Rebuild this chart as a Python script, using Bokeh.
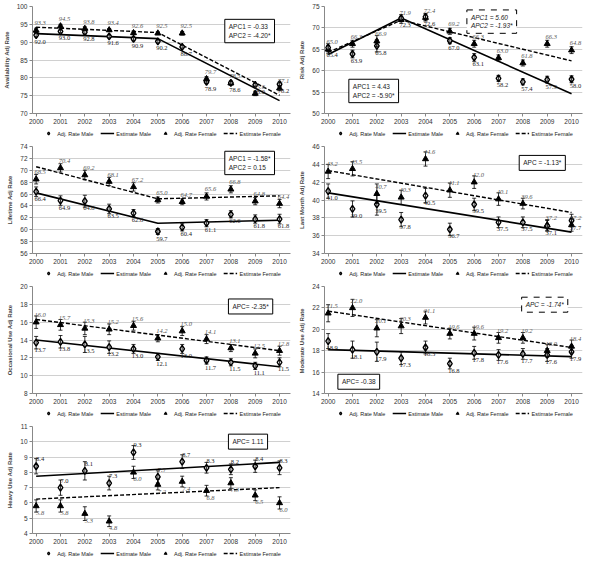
from bokeh.plotting import figure
from bokeh.layouts import column, row
from bokeh.models import (Range1d, FixedTicker, Legend, LegendItem, Label, Whisker,
                          ColumnDataSource, TeeHead, LabelSet, Spacer)
from bokeh.embed import file_html
from bokeh.resources import INLINE

FONT = "Liberation Sans"
years = list(range(2000, 2011))
legend_labels = ["Adj. Rate Male", "Estimate Male", "Adj. Rate Female", "Estimate Female"]

# Availability
avail_male = [92.0, 93.0, 92.8, 91.6, 90.9, 90.2, 88.7, 78.9, 78.6, 78.0, 78.2]
avail_female = [93.3, 94.5, 93.8, 93.4, 92.6, 92.5, 92.5, 79.7, 78.5, 75.6, 77.1]
avail_male_err = [0.5, 0.4, 0.5, 0.4, 0.5, 0.4, 0.4, 0.5, 0.5, 0.4, 0.6]
avail_female_err = [0.6, 0.5, 0.5, 0.4, 0.5, 0.4, 0.5, 0.6, 0.5, 0.6, 0.7]
avail_est_years = [2000, 2005, 2010]
avail_est_male = [92.4, 91.0, 73.6]
avail_est_female = [94.2, 92.7, 75.1]

# Risk
risk_male = [65.4, 63.9, 65.8, 72.3, 72.6, 67.0, 63.1, 58.2, 57.4, 57.9, 58.0]
risk_female = [65.0, 66.3, 66.9, 71.9, 72.4, 69.2, 66.3, 63.0, 61.8, 66.3, 64.8]
risk_male_err = [0.9, 0.9, 1.4, 0.8, 0.8, 0.7, 0.9, 0.7, 0.7, 0.8, 0.8]
risk_female_err = [0.9, 0.8, 1.3, 0.8, 0.8, 0.7, 0.8, 0.7, 0.7, 0.8, 0.8]
risk_est_years = [2000, 2003, 2010]
risk_est_male = [63.8, 72.3, 54.6]
risk_est_female = [64.3, 71.8, 62.3]

# Lifetime
life_male = [66.4, 64.9, 64.8, 63.5, 62.8, 59.7, 60.4, 61.1, 62.6, 61.8, 61.8]
life_female = [68.5, 70.4, 69.2, 68.1, 67.2, 65.0, 64.7, 65.6, 66.8, 64.8, 64.4]
life_male_err = [0.8, 0.8, 1.0, 0.8, 0.6, 0.5, 0.6, 0.6, 0.6, 0.7, 0.8]
life_female_err = [0.8, 0.7, 0.8, 0.7, 0.7, 0.5, 0.5, 0.6, 0.6, 0.6, 0.7]
life_est_years = [2000, 2005, 2010]
life_est_male = [66.2, 61.1, 61.6]
life_est_female = [70.6, 65.2, 65.7]

# Last month
month_male = [41.0, 39.0, 39.5, 37.8, 40.5, 36.7, 39.5, 37.5, 37.5, 37.1, 37.7]
month_female = [43.2, 43.5, 40.7, 40.3, 44.6, 41.1, 42.0, 40.1, 39.6, 37.2, 37.2]
month_male_err = [0.8, 0.9, 1.2, 0.8, 0.8, 0.7, 0.7, 0.6, 0.6, 0.6, 0.7]
month_female_err = [0.8, 0.8, 1.1, 0.8, 0.8, 0.8, 0.7, 0.7, 0.6, 0.6, 0.7]
month_est_years = [2000, 2010]
month_est_male = [40.8, 36.4]
month_est_female = [43.3, 38.6]

# Occasional use
occ_male = [13.7, 13.8, 13.5, 13.2, 13.0, 12.1, 13.0, 11.7, 11.5, 11.1, 11.5]
occ_female = [16.0, 15.7, 15.3, 15.2, 15.6, 14.2, 15.0, 14.1, 13.1, 12.5, 12.8]
occ_male_err = [0.7, 0.7, 0.9, 0.7, 0.5, 0.4, 0.5, 0.4, 0.4, 0.4, 0.5]
occ_female_err = [0.7, 0.6, 0.7, 0.6, 0.5, 0.4, 0.5, 0.5, 0.4, 0.5, 0.5]
occ_est_years = [2000, 2010]
occ_est_male = [14.0, 11.0]
occ_est_female = [16.3, 12.8]

# Moderate use
mod_male = [18.9, 18.1, 17.9, 17.3, 18.3, 16.8, 17.8, 17.6, 17.7, 17.6, 17.9]
mod_female = [21.5, 22.0, 20.1, 20.3, 21.1, 19.6, 19.6, 19.2, 19.2, 18.0, 18.4]
mod_male_err = [0.7, 0.8, 0.9, 0.6, 0.6, 0.5, 0.6, 0.5, 0.5, 0.6, 0.6]
mod_female_err = [0.8, 0.8, 0.8, 0.7, 0.6, 0.5, 0.6, 0.5, 0.5, 0.6, 0.6]
mod_est_years = [2000, 2010]
mod_est_male = [18.1, 17.45]
mod_est_female = [21.7, 18.3]

# Heavy use
heavy_male = [8.4, 7.0, 8.1, 7.3, 9.3, 7.7, 8.7, 8.3, 8.2, 8.4, 8.3]
heavy_female = [5.8, 5.8, 5.3, 4.8, 8.0, 7.2, 7.4, 6.8, 7.3, 6.5, 6.0]
heavy_male_err = [0.5, 0.5, 0.6, 0.45, 0.45, 0.4, 0.45, 0.35, 0.35, 0.4, 0.45]
heavy_female_err = [0.4, 0.4, 0.45, 0.35, 0.4, 0.35, 0.35, 0.35, 0.35, 0.35, 0.4]
heavy_est_years = [2000, 2010]
heavy_est_male = [7.75, 8.65]
heavy_est_female = [6.25, 7.0]

W = 292
PLOT_H = 126
LEG_H = 14
BL = 32


def draw_series(p, msrc, fsrc, est_x, est_m, est_f):
    lm = p.line(est_x, est_m, line_color="black", line_width=1.6)
    lf = p.line(est_x, est_f, line_color="black", line_width=1.4, line_dash="4 2")
    rf = p.scatter(x="x", y="y", source=fsrc, marker="triangle", size=6,
                   fill_color="black", line_color="black")
    rm = p.scatter(x="x", y="y", source=msrc, marker="diamond", size=7,
                   fill_color="white", line_color="black", line_width=1.4)
    return rm, lm, rf, lf


def make_legend_fig(msrc, fsrc, est_x, est_m, est_f):
    lfig = figure(width=W, height=LEG_H, output_backend="svg", toolbar_location=None,
                  x_range=Range1d(0, 1), y_range=Range1d(0, 1),
                  min_border_left=24, min_border_right=0, min_border_top=0,
                  min_border_bottom=0)
    lfig.axis.visible = False
    lfig.grid.visible = False
    lfig.outline_line_color = None
    rm, lm, rf, lf = draw_series(lfig, msrc, fsrc, est_x, est_m, est_f)
    leg = Legend(items=[LegendItem(label=legend_labels[0], renderers=[rm]),
                        LegendItem(label=legend_labels[1], renderers=[lm]),
                        LegendItem(label=legend_labels[2], renderers=[rf]),
                        LegendItem(label=legend_labels[3], renderers=[lf])],
                 orientation="horizontal", location="center",
                 label_text_font_size="5.5px", label_text_font=FONT,
                 label_text_color="#222222",
                 glyph_width=14, glyph_height=7, label_height=7, label_standoff=2,
                 spacing=7, padding=0, margin=0, border_line_color=None,
                 background_fill_alpha=0)
    lfig.add_layout(leg)
    return lfig


def make_panel(ylabel, ymin, ymax, ystep, male, female, merr, ferr,
               est_x, est_m, est_f, boxes, male_above=False):
    p = figure(width=W, height=PLOT_H, output_backend="svg", toolbar_location=None,
               x_range=Range1d(1999.85, 2010.45), y_range=Range1d(ymin, ymax),
               min_border_left=BL, min_border_right=2, min_border_top=6,
               min_border_bottom=0)
    p.outline_line_color = None
    p.xgrid.visible = False
    p.ygrid.grid_line_color = "#d0d0d0"
    p.xaxis.ticker = FixedTicker(ticks=years)
    p.yaxis.ticker = FixedTicker(ticks=list(range(ymin, ymax + 1, ystep)))
    for ax in (p.xaxis[0], p.yaxis[0]):
        ax.major_label_text_font_size = "6.5px"
        ax.major_label_text_font = FONT
        ax.major_label_text_color = "#333333"
        ax.axis_line_color = "#888888"
        ax.major_tick_line_color = "#888888"
        ax.major_tick_out = 3
        ax.major_tick_in = 0
        ax.minor_tick_line_color = None
        ax.major_label_standoff = 2
    p.yaxis.axis_label = ylabel
    p.yaxis.axis_label_text_font_size = "6px"
    p.yaxis.axis_label_text_font_style = "bold"
    p.yaxis.axis_label_text_font = FONT
    p.yaxis.axis_label_standoff = 4

    msrc = ColumnDataSource(dict(x=years, y=male,
                                 lo=[v - e for v, e in zip(male, merr)],
                                 hi=[v + e for v, e in zip(male, merr)],
                                 t=[f"{v:.1f}" for v in male]))
    fsrc = ColumnDataSource(dict(x=years, y=female,
                                 lo=[v - e for v, e in zip(female, ferr)],
                                 hi=[v + e for v, e in zip(female, ferr)],
                                 t=[f"{v:.1f}" for v in female]))
    draw_series(p, msrc, fsrc, est_x, est_m, est_f)
    for src in (msrc, fsrc):
        w = Whisker(base="x", lower="lo", upper="hi", source=src, dimension="height",
                    line_color="black", line_width=0.8, level="glyph",
                    upper_head=TeeHead(size=4, line_color="black", line_width=0.8),
                    lower_head=TeeHead(size=4, line_color="black", line_width=0.8))
        p.add_layout(w)

    m_off = 5 if male_above else -5
    f_off = -5 if male_above else 5
    p.add_layout(LabelSet(x="x", y="y", text="t", source=msrc, x_offset=4, y_offset=m_off,
                          text_align="center",
                          text_baseline="bottom" if male_above else "top",
                          text_font_size="6.5px", text_font=FONT, text_color="#222222"))
    p.add_layout(LabelSet(x="x", y="y", text="t", source=fsrc, x_offset=4, y_offset=f_off,
                          text_align="center",
                          text_baseline="top" if male_above else "bottom",
                          text_font_size="6.5px", text_font=FONT, text_font_style="italic",
                          text_color="#555555"))

    for bx, by, txt, dashed in boxes:
        p.add_layout(Label(x=bx, y=by, text=txt, text_align="left", text_baseline="top",
                           text_font_size="6.5px", text_font=FONT, text_color="#222222",
                           text_font_style="italic" if dashed else "normal",
                           border_line_color="black", border_line_width=1,
                           border_line_dash="dashed" if dashed else "solid",
                           background_fill_color="white", padding=4))
    return column(p, make_legend_fig(msrc, fsrc, est_x, est_m, est_f))


p1 = make_panel("Availability Adj Rate", 70, 100, 5, avail_male, avail_female,
                avail_male_err, avail_female_err, avail_est_years, avail_est_male,
                avail_est_female, [(2007.75, 96.4, "APC1 = -0.33\nAPC2 = -4.20*", False)])
p2 = make_panel("Risk Adj Rate", 50, 75, 5, risk_male, risk_female,
                risk_male_err, risk_female_err, risk_est_years, risk_est_male,
                risk_est_female, [(2005.7, 74.2, "APC1 = 5.60\nAPC2 = -1.93*", True),
                                  (2000.85, 58.0, "APC1 = 4.43\nAPC2 = -5.90*", False)])
p3 = make_panel("Lifetime Adj Rate", 56, 74, 2, life_male, life_female,
                life_male_err, life_female_err, life_est_years, life_est_male,
                life_est_female, [(2007.75, 73.2, "APC1 = -1.58*\nAPC2 =  0.15", False)])
p4 = make_panel("Last Month Adj Rate", 34, 46, 2, month_male, month_female,
                month_male_err, month_female_err, month_est_years, month_est_male,
                month_est_female, [(2007.85, 45.0, "APC = -1.13*", False)])
p5 = make_panel("Occasional Use Adj Rate", 8, 20, 2, occ_male, occ_female,
                occ_male_err, occ_female_err, occ_est_years, occ_est_male,
                occ_est_female, [(2007.9, 18.6, "APC= -2.35*", False)])
p6 = make_panel("Moderate  Use Adj Rate", 14, 24, 2, mod_male, mod_female,
                mod_male_err, mod_female_err, mod_est_years, mod_est_male,
                mod_est_female, [(2007.95, 23.0, "APC = -1.74*", True),
                                 (2000.4, 15.8, "APC= -0.38", False)])
p7 = make_panel("Heavy Use Adj Rate", 4, 11, 1, heavy_male, heavy_female,
                heavy_male_err, heavy_female_err, heavy_est_years, heavy_est_male,
                heavy_est_female, [(2007.9, 10.5, "APC= 1.11", False)], male_above=True)

page = column(row(p1, p2), row(p3, p4), row(p5, p6), row(p7, Spacer(width=W, height=10)))
open("out.html", "w").write(file_html(page, INLINE))
